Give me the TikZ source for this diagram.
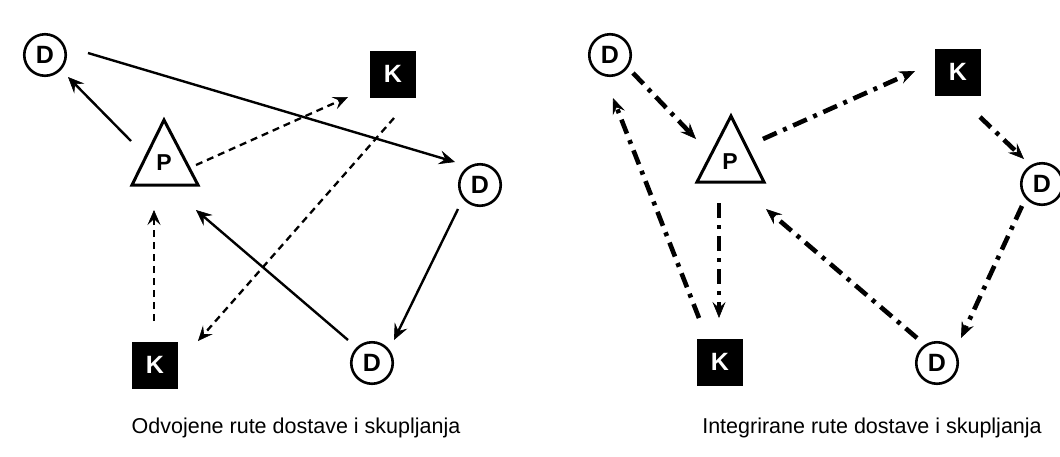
\documentclass[tikz,border=0pt]{standalone}
\usepackage{fontspec}
\setmainfont{Liberation Sans}
\usetikzlibrary{arrows.meta,calc}
\begin{document}
\begin{tikzpicture}[x=1pt,y=-1pt,
  dnode/.style={circle,draw,line width=2.6pt,minimum size=41.5pt,inner sep=0pt,font=\fontsize{25}{25}\selectfont\bfseries},
  knode/.style={fill=black,minimum width=46pt,minimum height=47pt,inner sep=0pt,text=white,font=\fontsize{25}{25}\selectfont\bfseries},
  plabel/.style={inner sep=0pt,font=\fontsize{23}{23}\selectfont\bfseries},
  tri/.style={line width=3pt,line join=miter},
  solidarr/.style={line width=2.4pt,-{Stealth[length=16pt,width=14pt,inset=6pt,line width=0.6pt]}},
  dasharr/.style={line width=2.3pt,dash pattern=on 7pt off 5pt,-{Stealth[length=15pt,width=13pt,inset=6pt,line width=0.6pt]}},
  dotarr/.style={line width=4.6pt,dash pattern=on 15pt off 7pt on 4pt off 7pt,-{Stealth[length=16pt,width=13pt,inset=6pt,line width=0.6pt]}},
  caption/.style={font=\fontsize{21.5}{21.5}\selectfont}]
\useasboundingbox (0,0) rectangle (1060,456);
\fill[white] (0,0) rectangle (1060,456);

% ---------- left panel ----------
\node[dnode] (D1) at (45,55) {D};
\node[knode] (K1) at (393,74) {K};
\node[dnode] (D2) at (480,185) {D};
\node[knode] (K2) at (155,365) {K};
\node[dnode] (D3) at (372,363) {D};
\draw[tri] (164,120) -- (132,185) -- (198,185) -- cycle;
\node[plabel] (P) at (164,163) {P};

\draw[solidarr] ($(P)+(-33,-22)$) -- ($(D1)+(23,22)$);
\draw[solidarr] ($(D1)+(43,-2)$) -- ($(D2)+(-25,-23)$);
\draw[dasharr] ($(P)+(32,2)$) -- ($(K1)+(-45,23)$);
\draw[dasharr] ($(K1)+(1,44)$) -- ($(K2)+(43,-24)$);
\draw[solidarr] ($(D2)+(-22,24)$) -- ($(D3)+(22,-23)$);
\draw[solidarr] ($(D3)+(-24,-23)$) -- ($(P)+(32,47)$);
\draw[dasharr] ($(K2)+(-1,-44)$) -- ($(P)+(-10,47)$);

\node[caption] (C1) at (296,428) {Odvojene rute dostave i skupljanja};

% ---------- right panel ----------
\node[dnode] (RD1) at (610,55) {D};
\node[knode] (RK1) at (958,72) {K};
\node[dnode] (RD2) at (1042,184) {D};
\node[knode] (RK2) at (720,362) {K};
\node[dnode] (RD3) at (937,363) {D};
\draw[tri] (731,116) -- (697,182) -- (764,182) -- cycle;
\node[plabel] (RP) at (730,162) {P};

\draw[dotarr] ($(RD1)+(23,18)$) -- ($(RP)+(-34,-23)$);
\draw[dotarr] ($(RK2)+(-21,-44)$) -- ($(RD1)+(3,43)$);
\draw[dotarr] ($(RP)+(33,-23)$) -- ($(RK1)+(-43,-1)$);
\draw[dotarr] ($(RK1)+(22,45)$) -- ($(RD2)+(-18,-25)$);
\draw[dotarr] ($(RD2)+(-20,22)$) -- ($(RD3)+(24,-25)$);
\draw[dotarr] ($(RD3)+(-20,-25)$) -- ($(RP)+(36,47)$);
\draw[dotarr] ($(RP)+(-11,41)$) -- ($(RK2)+(-1,-44)$);

\node[caption] (C2) at (872,428) {Integrirane rute dostave i skupljanja};
\end{tikzpicture}
\end{document}
